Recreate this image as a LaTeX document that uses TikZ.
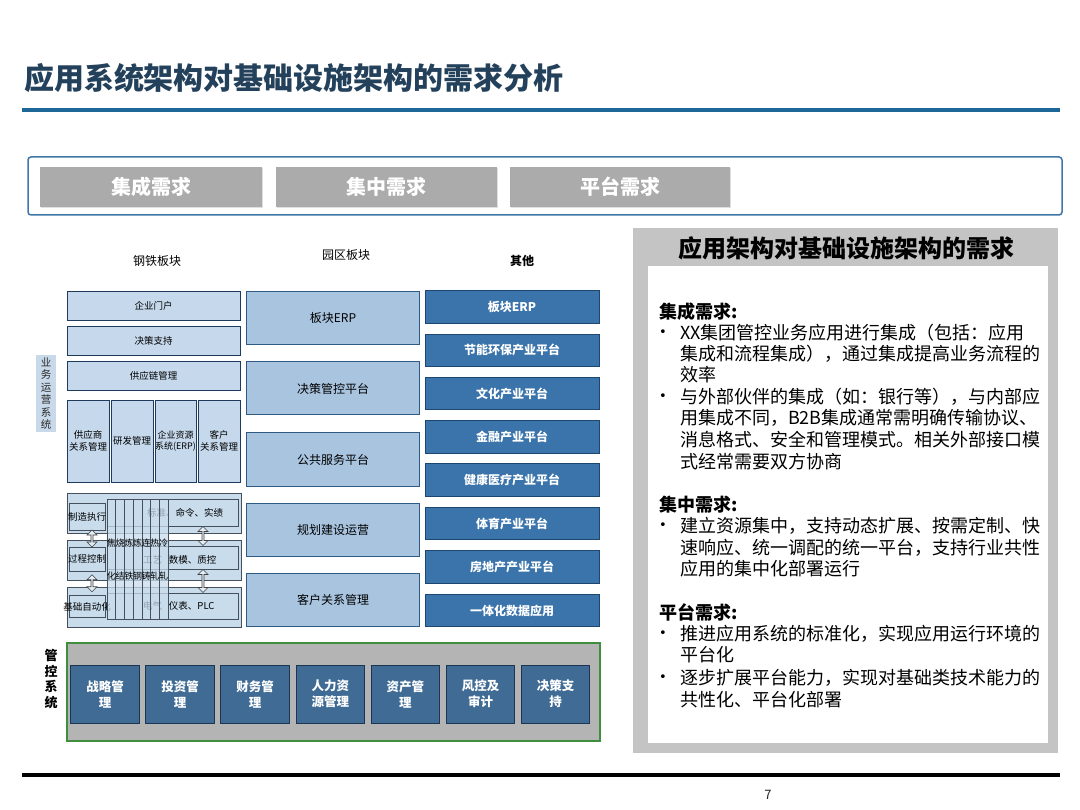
\documentclass[tikz,border=0pt]{standalone}
\usepackage{fontspec}
\setmainfont{Noto Sans CJK SC}
\newfontfamily\cjk{Noto Sans CJK SC}
\newfontfamily\dejavu{DejaVu Sans}
\usetikzlibrary{shapes.arrows,calc,shadows}
\newcommand\fz[2]{\fontsize{#1}{#2}\selectfont}
\definecolor{titlecol}{HTML}{24415C}
\definecolor{ruleblue}{HTML}{1D6698}
\definecolor{topline}{HTML}{4176A8}
\definecolor{tabgray}{HTML}{ABABAB}
\definecolor{steelfill}{HTML}{C6D9EC}
\definecolor{steelline}{HTML}{1F3B5C}
\definecolor{parkfill}{HTML}{A8C4DF}
\definecolor{parkline}{HTML}{2E5A84}
\definecolor{otherfill}{HTML}{3A74AA}
\definecolor{otherline}{HTML}{1D4670}
\definecolor{ctrlfill}{HTML}{3F6B94}
\definecolor{ctrlline}{HTML}{1C3550}
\definecolor{ctrlarea}{HTML}{B4B4B4}
\definecolor{greenline}{HTML}{3E8E3E}
\definecolor{panelgray}{HTML}{C4C4C4}
\definecolor{mfgfill}{HTML}{C8DCEC}
\definecolor{mfgline}{HTML}{45505C}
\definecolor{sidefill}{HTML}{C8DAEA}
\begin{document}
\begin{tikzpicture}[x=1pt,y=-1pt,
  every node/.style={inner sep=0pt,outer sep=0pt},
  tabbox/.style={fill=tabgray,text=white,font=\bfseries\fz{20}{24},minimum height=40pt,
    drop shadow={opacity=0.25,shadow xshift=1pt,shadow yshift=-1.5pt}},
  steelbox/.style={draw=steelline,fill=steelfill,line width=0.9pt,font=\fz{9.5}{11.5},align=center},
  parkbox/.style={draw=parkline,fill=parkfill,line width=1pt,font=\fz{12}{14},minimum width=173pt,minimum height=53pt},
  otherbox/.style={draw=otherline,fill=otherfill,line width=1pt,text=white,font=\bfseries\fz{12}{14},minimum width=174pt,minimum height=32.5pt},
  ctrlbox/.style={draw=ctrlline,fill=ctrlfill,line width=1pt,text=white,font=\bfseries\fz{12.5}{16},align=center,minimum width=68.5pt,minimum height=58pt},
  mfgband/.style={draw=mfgline,fill=mfgfill,line width=0.8pt,minimum width=174pt,minimum height=40pt},
  mfgbox/.style={draw=mfgline,fill=mfgfill,line width=0.8pt},
  mfgtext/.style={font=\fz{9.5}{11},anchor=west},
  strip/.style={draw=mfgline,fill=mfgfill,fill opacity=0.75,line width=0.6pt,minimum width=8.7pt,minimum height=120pt},
  striptext/.style={font=\fz{9}{9}},
  dblarr/.style={double arrow,draw=black!75,fill=white!50!mfgfill,line width=0.7pt,shape border rotate=90,
    minimum width=10pt,minimum height=17pt,double arrow head extend=1.5pt},
  colhead/.style={font=\fz{12}{14}},
  body/.style={font=\fz{18}{21},anchor=west},
  head/.style={font=\bfseries\fz{18}{21},anchor=west},
  bullet/.style={font=\dejavu\fz{13}{21},anchor=west}
]
\useasboundingbox (0,0) rectangle (1080,810);
\fill[white] (0,0) rectangle (1080,810);

% title
\node[anchor=west,text=titlecol,font=\bfseries\fz{30}{34}] (title) at (24,78) {应用系统架构对基础设施架构的需求分析};
\draw[line width=4pt,ruleblue] (22,110) -- (1060,110);

% top bar with tabs
\node[draw=topline,fill=white,rounded corners=3pt,line width=1.5pt,minimum width=1034pt,minimum height=58pt] (topbar) at (545,186) {};
\node[tabbox,minimum width=222pt] (tab1) at (151,187) {集成需求};
\node[tabbox,minimum width=221pt] (tab2) at (386.5,187) {集中需求};
\node[tabbox,minimum width=220pt] (tab3) at (620,187) {平台需求};

% column headings
\node[colhead] (h1) at (157,261) {钢铁板块};
\node[colhead] (h2) at (346,255) {园区板块};
\node[colhead,font=\bfseries\fz{12}{14}] (h3) at (522,261) {其他};

% side label
\node[fill=sidefill,minimum width=20pt,minimum height=77pt,font=\fz{10.5}{12.5},align=center,text=black!85] (side) at (46,393.5) {业\\务\\运\\营\\系\\统};

% steel column
\node[steelbox,minimum width=173pt,minimum height=29pt] (portal) at (153.5,305.5) {企业门户};
\node[steelbox,minimum width=173pt,minimum height=29pt] (dss) at (153.5,340.5) {决策支持};
\node[steelbox,minimum width=173pt,minimum height=29pt] (scm) at (153.5,375.5) {供应链管理};
\node[steelbox,minimum width=42pt,minimum height=82pt] (srm) at (88,441) {供应商\\关系管理};
\node[steelbox,minimum width=42pt,minimum height=82pt] (rnd) at (132,441) {研发管理};
\node[steelbox,minimum width=41pt,minimum height=82pt,font=\fz{9}{11.5}] (erp) at (175.5,441) {企业资源\\系统(ERP)};
\node[steelbox,minimum width=42pt,minimum height=82pt] (crm) at (219,441) {客户\\关系管理};

% manufacturing stack
\node[mfgband] (band1) at (154,513) {};
\node[mfgband] (band2) at (154,560) {};
\node[mfgband] (band3) at (154,607) {};
\node[mfgbox,minimum width=36pt,minimum height=27pt] (l1) at (87,516.5) {};
\node[mfgbox,minimum width=36pt,minimum height=24pt] (l2) at (87,559) {};
\node[mfgbox,minimum width=36pt,minimum height=22pt] (l3) at (87,606.5) {};
\node[mfgbox,minimum width=131pt,minimum height=27pt] (r1) at (172.5,512.5) {};
\node[mfgbox,minimum width=131pt,minimum height=23pt] (r2) at (172.5,557.5) {};
\node[mfgbox,minimum width=131pt,minimum height=26pt] (r3) at (172.5,606) {};
\node[font=\fz{9.5}{11}] (l1t) at (l1) {制造执行};
\node[font=\fz{9.5}{11}] (l2t) at (l2) {过程控制};
\node[font=\fz{9.5}{11}] (l3t) at (l3) {基础自动化};
\node[mfgtext] (r1t) at (147,513) {标准、命令、实绩};
\node[mfgtext] (r2t) at (143,560) {工艺\hspace{7pt}数模、质控};
\node[mfgtext] (r3t) at (143,606) {电气\hspace{7pt}仪表、PLC};
\foreach \i in {0,...,6} {
  \node[strip] (s\i) at ({111.4+8.71*\i},559) {};
}
\foreach \i/\a/\b in {0/焦/化,1/烧/结,2/炼/铁,3/炼/钢,4/连/铸,5/热/轧,6/冷/轧} {
  \node[striptext] (sa\i) at ({111.4+8.71*\i},543) {\a};
  \node[striptext] (sb\i) at ({111.4+8.71*\i},576) {\b};
}
\node[dblarr] (a1) at ($(l1.south)!0.5!(l2.north)+(5,0)$) {};
\node[dblarr] (a2) at ($(l2.south)!0.5!(l3.north)+(5,0)$) {};
\node[dblarr,minimum height=19pt] (a3) at ($(r1.south)!0.5!(r2.north)+(30.5,0)$) {};
\node[dblarr,minimum height=23pt] (a4) at ($(r2.south)!0.5!(r3.north)+(30.5,0)$) {};

% park column
\node[parkbox] (p1) at (333,318) {板块ERP};
\node[parkbox] (p2) at (333,388.5) {决策管控平台};
\node[parkbox] (p3) at (333,459.5) {公共服务平台};
\node[parkbox] (p4) at (333,529.5) {规划建设运营};
\node[parkbox] (p5) at (333,600) {客户关系管理};

% other column
\node[otherbox] (o1) at (512,307) {板块ERP};
\node[otherbox] (o2) at (512,350.3) {节能环保产业平台};
\node[otherbox] (o3) at (512,393.6) {文化产业平台};
\node[otherbox] (o4) at (512,436.9) {金融产业平台};
\node[otherbox] (o5) at (512,480.2) {健康医疗产业平台};
\node[otherbox] (o6) at (512,523.5) {体育产业平台};
\node[otherbox] (o7) at (512,566.8) {房地产产业平台};
\node[otherbox] (o8) at (512,610.5) {一体化数据应用};

% control systems
\node[font=\bfseries\fz{13}{15.5},align=center] (ctrllabel) at (51,679) {管\\控\\系\\统};
\node[draw=greenline,fill=ctrlarea,line width=1.2pt,minimum width=533pt,minimum height=98pt] (ctrl) at (333.5,692) {};
\node[ctrlbox] (c1) at (105,694) {战略管\\理};
\node[ctrlbox] (c2) at (180.1,694) {投资管\\理};
\node[ctrlbox] (c3) at (255.2,694) {财务管\\理};
\node[ctrlbox] (c4) at (330.3,694) {人力资\\源管理};
\node[ctrlbox] (c5) at (405.4,694) {资产管\\理};
\node[ctrlbox] (c6) at (480.5,694) {风控及\\审计};
\node[ctrlbox] (c7) at (555.6,694) {决策支\\持};

% right panel
\node[fill=panelgray,minimum width=425pt,minimum height=525pt] (panel) at (845.5,490.5) {};
\node[fill=white,minimum width=400pt,minimum height=477pt] (inner) at (848,504.5) {};
\node[font=\bfseries\fz{24}{28}] (ptitle) at (846,248) {应用架构对基础设施架构的需求};

\node[head] (hd1) at (659,312) {集成需求:};
\node[bullet] (b1) at (659,333) {•};
\node[body] (t1) at (680,333) {XX集团管控业务应用进行集成（包括：应用};
\node[body] (t2) at (680,354) {集成和流程集成），通过集成提高业务流程的};
\node[body] (t3) at (680,375) {效率};
\node[bullet] (b2) at (659,397) {•};
\node[body] (t4) at (680,397) {与外部伙伴的集成（如：银行等），与内部应};
\node[body] (t5) at (680,418) {用集成不同，B2B集成通常需明确传输协议、};
\node[body] (t6) at (680,440) {消息格式、安全和管理模式。相关外部接口模};
\node[body] (t7) at (680,462) {式经常需要双方协商};

\node[head] (hd2) at (659,505) {集中需求:};
\node[bullet] (b3) at (659,526) {•};
\node[body] (t8) at (680,526) {建立资源集中，支持动态扩展、按需定制、快};
\node[body] (t9) at (680,548) {速响应、统一调配的统一平台，支持行业共性};
\node[body] (t10) at (680,569) {应用的集中化部署运行};

\node[head] (hd3) at (659,612) {平台需求:};
\node[bullet] (b4) at (659,634) {•};
\node[body] (t11) at (680,634) {推进应用系统的标准化，实现应用运行环境的};
\node[body] (t12) at (680,655) {平台化};
\node[bullet] (b5) at (659,678) {•};
\node[body] (t13) at (680,678) {逐步扩展平台能力，实现对基础类技术能力的};
\node[body] (t14) at (680,700) {共性化、平台化部署};

% footer
\draw[line width=4pt,black] (22,775) -- (1060,775);
\node[font=\fz{13}{15},text=black!85] (pagenum) at (768,795) {7};
\end{tikzpicture}
\end{document}
